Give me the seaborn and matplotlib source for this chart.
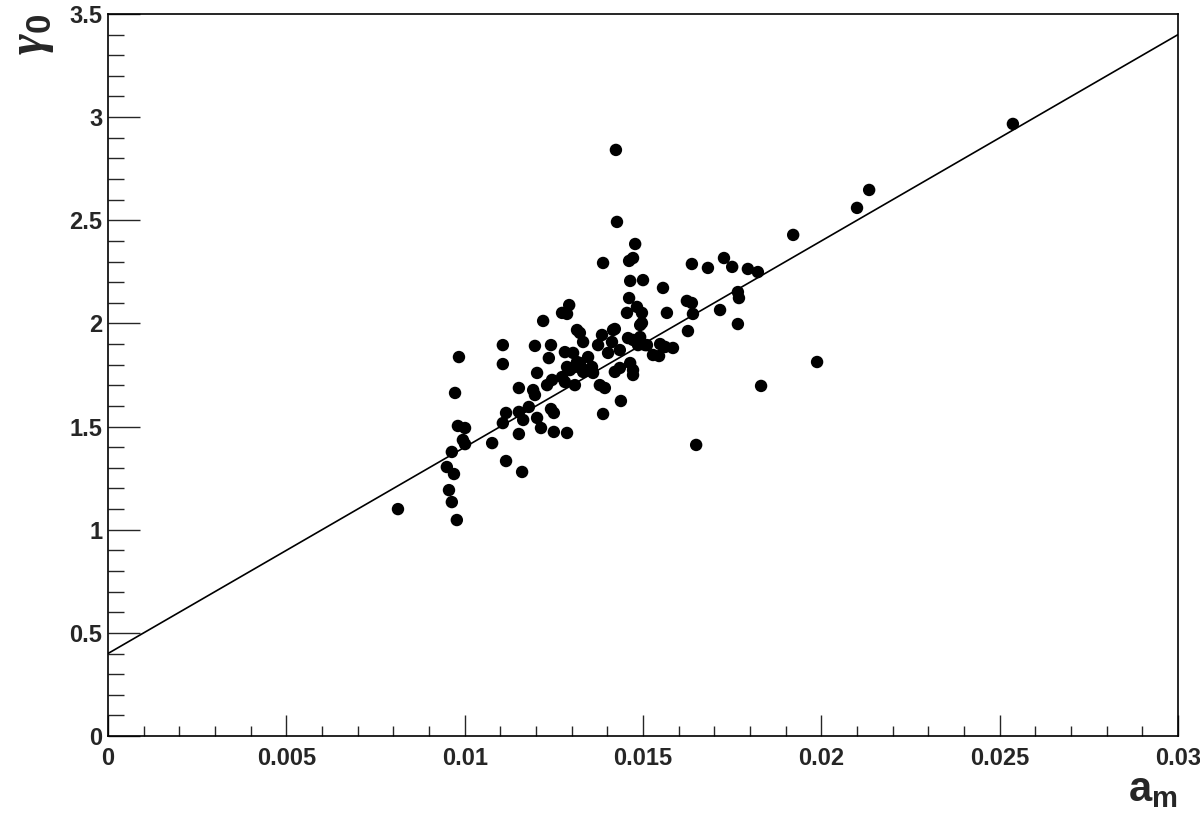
import numpy as np
import matplotlib
matplotlib.use("Agg")
import matplotlib.pyplot as plt
from matplotlib.ticker import MultipleLocator, FuncFormatter
import seaborn as sns

# measured points (a_m, gamma_0)
a_m = [
    0.00813, 0.00978, 0.00964, 0.00956, 0.00950, 0.00970, 0.00964, 0.00973, 0.00981, 0.01001,
    0.00995, 0.01001, 0.00984, 0.01077, 0.01116, 0.01161, 0.01107, 0.01116, 0.01152, 0.01164,
    0.01152, 0.01180, 0.01203, 0.01214, 0.01250, 0.01287, 0.01242, 0.01250, 0.01152, 0.01192,
    0.01197, 0.01203, 0.01231, 0.01245, 0.01273, 0.01281, 0.01309, 0.01107, 0.01107, 0.01197,
    0.01236, 0.01242, 0.01220, 0.01273, 0.01287, 0.01293, 0.01281, 0.01304, 0.01287, 0.01295,
    0.01315, 0.01323, 0.01346, 0.01357, 0.01332, 0.01360, 0.01315, 0.01323, 0.01332, 0.01385,
    0.01416, 0.01413, 0.01374, 0.01402, 0.01435, 0.01421, 0.01435, 0.01464, 0.01472, 0.01472,
    0.01379, 0.01393, 0.01438, 0.01388, 0.01421, 0.01458, 0.01472, 0.01492, 0.01486, 0.01511,
    0.01492, 0.01497, 0.01455, 0.01483, 0.01461, 0.01464, 0.01500, 0.01556, 0.01567, 0.01388,
    0.01461, 0.01472, 0.01478, 0.01427, 0.01424, 0.01623, 0.01637, 0.01640, 0.01626, 0.01637,
    0.01682, 0.01727, 0.01750, 0.01794, 0.01822, 0.01716, 0.01766, 0.01769, 0.01766, 0.01506,
    0.01528, 0.01545, 0.01548, 0.01562, 0.01584, 0.01921, 0.02100, 0.02134, 0.02537, 0.01988,
    0.01831, 0.01649, 0.01497, 0.01309, 0.01337,
]
gamma_0 = [
    1.100, 1.047, 1.134, 1.192, 1.304, 1.270, 1.377, 1.663, 1.503, 1.493,
    1.435, 1.415, 1.837, 1.420, 1.333, 1.280, 1.517, 1.566, 1.571, 1.532,
    1.464, 1.595, 1.542, 1.493, 1.474, 1.469, 1.585, 1.566, 1.687, 1.677,
    1.653, 1.760, 1.701, 1.726, 1.740, 1.716, 1.701, 1.895, 1.803, 1.891,
    1.832, 1.895, 2.012, 2.051, 2.046, 2.089, 1.861, 1.857, 1.789, 1.774,
    1.813, 1.808, 1.837, 1.789, 1.765, 1.760, 1.968, 1.954, 1.910, 1.944,
    1.968, 1.910, 1.895, 1.857, 1.871, 1.765, 1.784, 1.808, 1.774, 1.750,
    1.701, 1.687, 1.624, 1.561, 1.973, 1.929, 1.920, 1.934, 1.895, 1.895,
    1.992, 2.051, 2.051, 2.080, 2.123, 2.206, 2.210, 2.172, 2.051, 2.293,
    2.303, 2.317, 2.385, 2.492, 2.841, 2.109, 2.099, 2.046, 1.963, 2.288,
    2.269, 2.317, 2.274, 2.264, 2.249, 2.065, 2.152, 2.123, 1.997, 1.895,
    1.847, 1.842, 1.900, 1.886, 1.881, 2.429, 2.560, 2.647, 2.967, 1.813,
    1.697, 1.411, 2.002, 1.789, 1.774,
]

# linear fit gamma_0 = p0 + p1 * a_m
fit_p0 = 0.4
fit_p1 = 100.0
x_range = [0.0, 0.03]
y_range = [0.0, 3.5]

sns.set_style("white")
plt.rcParams["font.family"] = ["Liberation Sans", "DejaVu Sans"]
plt.rcParams["font.weight"] = "bold"
plt.rcParams["mathtext.fontset"] = "custom"
plt.rcParams["mathtext.rm"] = "Liberation Sans:bold"
plt.rcParams["mathtext.it"] = "Liberation Sans:bold"
plt.rcParams["mathtext.bf"] = "Liberation Sans:bold"
plt.rcParams["mathtext.sf"] = "Liberation Serif:bold:italic"

fig = plt.figure(figsize=(12, 8.17), dpi=100)
ax = fig.add_axes([0.09, 0.0991, 0.8917, 0.8838])

sns.scatterplot(x=a_m, y=gamma_0, color="black", s=80, edgecolor="none", ax=ax, zorder=3)

xf = np.array(x_range)
ax.plot(xf, fit_p0 + fit_p1 * xf, color="black", lw=1.2, zorder=2)

ax.set_xlim(*x_range)
ax.set_ylim(*y_range)

for sp in ax.spines.values():
    sp.set_color("black")
    sp.set_linewidth(1.2)

ax.xaxis.set_major_locator(MultipleLocator(0.005))
ax.xaxis.set_minor_locator(MultipleLocator(0.001))
ax.yaxis.set_major_locator(MultipleLocator(0.5))
ax.yaxis.set_minor_locator(MultipleLocator(0.1))
fmt = FuncFormatter(lambda v, p: "%g" % round(v, 6))
ax.xaxis.set_major_formatter(fmt)
ax.yaxis.set_major_formatter(fmt)

ax.tick_params(axis="x", which="major", direction="in", length=15, width=1, pad=8,
               labelsize=17, top=False, bottom=True)
ax.tick_params(axis="x", which="minor", direction="in", length=7.5, width=1, top=False, bottom=True)
ax.tick_params(axis="y", which="major", direction="in", length=23, width=1, pad=4,
               labelsize=17, left=True, right=False)
ax.tick_params(axis="y", which="minor", direction="in", length=11.5, width=1, left=True, right=False)
for lab in ax.get_xticklabels() + ax.get_yticklabels():
    lab.set_fontweight("bold")

ax.set_xlabel(r"$\mathbf{a}_\mathbf{m}$", loc="right", fontsize=30, labelpad=0)
ax.set_ylabel(r"$\mathsf{\gamma}_\mathbf{0}$", loc="top", fontsize=36, labelpad=10)

fig.savefig("out.png", dpi=100)
plt.close(fig)
